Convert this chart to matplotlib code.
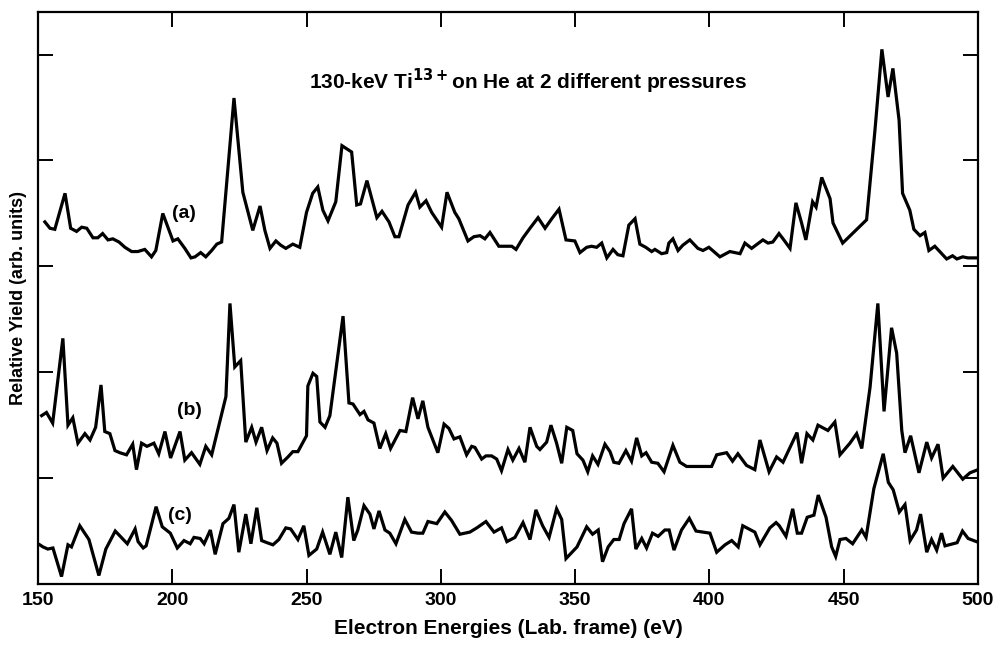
import matplotlib
matplotlib.use("Agg")
import matplotlib.pyplot as plt

# spectra (energy in eV, yield in arb. units)
energy_a = [152.6, 154.5, 156.3, 160.1, 162.2, 164.4, 166.3, 168.2, 170.5, 172.3,
            174.1, 176.1, 177.9, 180.2, 182.4, 184.9, 187.2, 189.8, 192.3, 193.9,
            196.5, 198.4, 200.3, 202.1, 204.7, 207.0, 208.5, 210.6, 212.5, 214.7,
            216.6, 218.4, 223.0, 226.3, 230.0, 232.7, 234.5, 236.4, 238.6, 240.4,
            242.3, 244.9, 247.5, 250.0, 252.3, 254.2, 256.1, 258.0, 260.9, 263.2,
            266.8, 268.7, 270.1, 272.5, 274.2, 276.2, 278.1, 280.7, 282.9, 284.4,
            287.8, 290.6, 292.2, 294.5, 296.6, 300.3, 302.3, 305.2, 306.7, 310.1,
            312.3, 314.6, 316.4, 318.3, 321.6, 326.4, 328.0, 330.6, 333.2, 336.2,
            338.8, 341.3, 344.0, 346.6, 349.9, 351.8, 354.3, 356.1, 358.0, 359.9,
            361.8, 364.1, 365.9, 367.8, 370.0, 372.3, 374.1, 376.3, 378.5, 379.7,
            382.2, 384.1, 384.9, 386.4, 388.3, 390.1, 392.7, 395.7, 397.6, 399.8,
            403.9, 407.6, 411.4, 413.2, 415.7, 419.9, 421.8, 423.6, 425.9, 427.4,
            430.0, 432.2, 434.3, 435.9, 438.4, 439.7, 441.8, 444.9, 446.0, 449.6,
            458.5, 461.6, 464.2, 466.5, 468.3, 470.6, 471.9, 474.6, 476.1, 478.4,
            480.2, 481.7, 483.9, 486.1, 488.3, 490.5, 492.1, 494.3, 496.2, 500.0]
yield_a = [3.42, 3.36, 3.35, 3.69, 3.36, 3.33, 3.37, 3.36, 3.27, 3.27,
           3.31, 3.25, 3.26, 3.23, 3.18, 3.14, 3.14, 3.16, 3.09, 3.15,
           3.50, 3.37, 3.24, 3.26, 3.17, 3.08, 3.09, 3.13, 3.09, 3.15,
           3.21, 3.23, 4.59, 3.70, 3.34, 3.57, 3.34, 3.17, 3.24, 3.20,
           3.17, 3.21, 3.18, 3.51, 3.69, 3.75, 3.53, 3.43, 3.61, 4.14,
           4.08, 3.58, 3.59, 3.81, 3.65, 3.46, 3.52, 3.42, 3.28, 3.28,
           3.58, 3.70, 3.56, 3.62, 3.51, 3.37, 3.70, 3.51, 3.45, 3.24,
           3.28, 3.29, 3.26, 3.32, 3.19, 3.19, 3.16, 3.27, 3.36, 3.46,
           3.36, 3.45, 3.54, 3.25, 3.24, 3.13, 3.18, 3.19, 3.18, 3.22,
           3.08, 3.16, 3.11, 3.10, 3.39, 3.45, 3.21, 3.18, 3.14, 3.16,
           3.12, 3.13, 3.22, 3.26, 3.15, 3.20, 3.25, 3.17, 3.15, 3.18,
           3.09, 3.14, 3.12, 3.22, 3.17, 3.25, 3.22, 3.23, 3.31, 3.26,
           3.17, 3.60, 3.41, 3.25, 3.61, 3.56, 3.84, 3.64, 3.41, 3.22,
           3.44, 4.28, 5.05, 4.60, 4.87, 4.38, 3.69, 3.53, 3.35, 3.29,
           3.32, 3.15, 3.19, 3.13, 3.07, 3.10, 3.07, 3.09, 3.08, 3.08]

energy_b = [151.4, 153.2, 155.5, 159.3, 161.2, 163.0, 164.9, 167.5, 169.4, 171.5,
            173.5, 174.9, 176.8, 178.7, 180.5, 183.0, 185.3, 186.7, 188.6, 190.6,
            193.2, 195.0, 197.3, 199.4, 202.9, 204.7, 207.2, 210.3, 212.5, 214.7,
            220.0, 221.5, 223.3, 225.5, 227.4, 229.6, 231.2, 233.3, 235.3, 237.4,
            239.0, 240.7, 243.1, 244.9, 246.8, 250.0, 250.5, 252.4, 253.8, 255.0,
            256.9, 258.7, 263.6, 265.8, 267.3, 269.9, 271.4, 272.9, 275.1, 277.3,
            279.5, 281.3, 284.8, 287.0, 289.5, 291.5, 293.3, 295.2, 298.9, 301.2,
            303.0, 304.9, 307.1, 309.6, 311.5, 312.7, 315.2, 316.8, 318.9, 320.8,
            322.6, 325.0, 326.8, 329.1, 331.3, 333.2, 335.7, 336.9, 339.4, 341.0,
            343.1, 345.0, 346.9, 349.1, 350.7, 352.9, 354.7, 356.5, 358.5, 361.1,
            363.0, 364.4, 366.3, 368.9, 371.0, 372.9, 374.8, 376.4, 378.5, 380.8,
            383.1, 386.4, 389.0, 391.5, 395.2, 400.8, 402.7, 406.4, 408.6, 410.6,
            413.8, 416.9, 418.8, 422.2, 425.0, 427.4, 432.6, 434.3, 436.3, 438.5,
            440.4, 444.1, 446.7, 448.6, 452.3, 454.8, 456.7, 459.8, 462.7, 465.0,
            467.8, 469.7, 471.6, 472.8, 474.9, 478.0, 480.9, 482.7, 485.1, 487.0,
            490.6, 494.3, 497.0, 500.0]
yield_b = [1.59, 1.62, 1.52, 2.32, 1.50, 1.57, 1.33, 1.42, 1.36, 1.48,
           1.88, 1.44, 1.42, 1.26, 1.24, 1.22, 1.32, 1.08, 1.33, 1.30,
           1.33, 1.23, 1.44, 1.19, 1.44, 1.17, 1.24, 1.13, 1.30, 1.22,
           1.77, 2.65, 2.05, 2.11, 1.34, 1.48, 1.34, 1.48, 1.26, 1.38,
           1.33, 1.14, 1.20, 1.25, 1.25, 1.40, 1.87, 1.99, 1.96, 1.53,
           1.48, 1.59, 2.53, 1.71, 1.70, 1.60, 1.63, 1.55, 1.52, 1.28,
           1.42, 1.28, 1.45, 1.44, 1.76, 1.56, 1.73, 1.48, 1.24, 1.51,
           1.47, 1.37, 1.39, 1.22, 1.30, 1.29, 1.18, 1.21, 1.21, 1.18,
           1.07, 1.27, 1.17, 1.28, 1.15, 1.48, 1.30, 1.27, 1.34, 1.50,
           1.33, 1.14, 1.48, 1.45, 1.23, 1.17, 1.06, 1.21, 1.13, 1.32,
           1.25, 1.15, 1.14, 1.26, 1.16, 1.38, 1.21, 1.24, 1.15, 1.14,
           1.06, 1.31, 1.15, 1.11, 1.11, 1.11, 1.22, 1.24, 1.16, 1.23,
           1.12, 1.08, 1.36, 1.06, 1.20, 1.15, 1.43, 1.14, 1.42, 1.36,
           1.50, 1.45, 1.53, 1.22, 1.33, 1.42, 1.28, 1.86, 2.65, 1.63,
           2.42, 2.18, 1.45, 1.24, 1.40, 1.05, 1.34, 1.19, 1.32, 1.00,
           1.11, 0.99, 1.05, 1.08]

energy_c = [150.7, 151.9, 153.7, 155.6, 158.8, 161.2, 162.5, 165.6, 169.0, 172.7,
            175.3, 178.8, 183.3, 186.2, 187.3, 189.2, 190.3, 194.0, 196.3, 199.3,
            201.9, 204.4, 206.7, 208.1, 210.4, 211.9, 214.2, 216.0, 218.9, 221.1,
            223.0, 224.8, 227.4, 229.3, 231.5, 233.3, 235.3, 237.5, 239.7, 242.3,
            244.1, 246.8, 249.0, 250.9, 253.8, 256.0, 258.7, 260.9, 263.1, 265.4,
            267.6, 269.1, 271.4, 273.6, 275.1, 277.0, 279.2, 281.0, 283.3, 286.6,
            289.1, 291.5, 293.3, 295.2, 298.5, 301.5, 304.0, 307.1, 310.8, 313.4,
            316.8, 319.8, 322.6, 324.6, 327.6, 330.6, 333.2, 335.4, 337.9, 340.3,
            343.1, 345.0, 346.6, 350.7, 354.3, 356.5, 358.6, 360.2, 362.3, 364.4,
            366.4, 368.2, 371.0, 372.6, 374.8, 376.6, 378.8, 380.9, 383.4, 385.0,
            386.8, 389.6, 392.5, 395.0, 400.2, 402.7, 405.8, 408.3, 410.7, 412.4,
            416.9, 418.8, 422.5, 424.8, 426.0, 428.5, 431.0, 432.7, 434.3, 436.4,
            438.9, 440.5, 443.4, 445.5, 447.0, 448.6, 450.8, 453.3, 456.7, 458.3,
            461.2, 464.7, 466.6, 468.4, 470.7, 472.8, 474.7, 477.1, 478.6, 480.9,
            482.7, 484.6, 486.4, 487.7, 492.2, 494.2, 496.3, 499.4]
yield_c = [0.37, 0.35, 0.33, 0.34, 0.07, 0.37, 0.35, 0.55, 0.42, 0.08,
           0.33, 0.50, 0.38, 0.52, 0.40, 0.34, 0.36, 0.73, 0.54, 0.48,
           0.34, 0.41, 0.38, 0.44, 0.43, 0.38, 0.51, 0.28, 0.57, 0.62,
           0.75, 0.30, 0.66, 0.38, 0.72, 0.41, 0.39, 0.37, 0.42, 0.53,
           0.52, 0.42, 0.55, 0.27, 0.33, 0.49, 0.28, 0.49, 0.25, 0.82,
           0.41, 0.51, 0.74, 0.66, 0.52, 0.69, 0.51, 0.48, 0.38, 0.61,
           0.49, 0.48, 0.48, 0.59, 0.57, 0.68, 0.60, 0.47, 0.49, 0.53,
           0.59, 0.49, 0.53, 0.40, 0.44, 0.58, 0.42, 0.70, 0.55, 0.44,
           0.71, 0.61, 0.24, 0.35, 0.54, 0.47, 0.51, 0.21, 0.35, 0.42,
           0.42, 0.57, 0.71, 0.33, 0.43, 0.34, 0.48, 0.45, 0.51, 0.51,
           0.32, 0.51, 0.62, 0.50, 0.48, 0.30, 0.37, 0.41, 0.35, 0.55,
           0.49, 0.37, 0.53, 0.58, 0.55, 0.45, 0.71, 0.48, 0.48, 0.63,
           0.65, 0.84, 0.63, 0.35, 0.26, 0.42, 0.43, 0.38, 0.51, 0.44,
           0.90, 1.23, 0.96, 0.89, 0.68, 0.75, 0.41, 0.51, 0.66, 0.30,
           0.42, 0.32, 0.48, 0.36, 0.39, 0.50, 0.43, 0.40]

xticks = [150, 200, 250, 300, 350, 400, 450, 500]
yticks = [1, 2, 3, 4, 5]

bold = {"family": ["Liberation Sans", "DejaVu Sans"], "weight": "bold"}

fig = plt.figure(figsize=(9.97, 6.46), dpi=100)
ax = fig.add_axes([0.038, 0.096, 0.943, 0.885])

for e, y in [(energy_a, yield_a), (energy_b, yield_b), (energy_c, yield_c)]:
    ax.plot(e, y, color="black", lw=2.3, solid_joinstyle="miter")

ax.set_xlim(150, 500)
ax.set_ylim(0, 5.4)

ax.set_xticks(xticks)
ax.set_xticklabels([str(t) for t in xticks], fontdict=bold, fontsize=14)
ax.set_yticks(yticks)
ax.set_yticklabels([])
ax.tick_params(direction="in", length=11, width=1.4, top=True, right=True, pad=6)
for s in ax.spines.values():
    s.set_linewidth(1.6)

ax.set_xlabel("Electron Energies (Lab. frame) (eV)", fontdict=bold, fontsize=15, labelpad=7)
ax.set_ylabel("Relative Yield (arb. units)", fontdict=bold, fontsize=13)
ax.yaxis.set_label_coords(-0.012, 0.5)

ax.text(251, 4.75, r"130-keV Ti$^{\mathbf{13+}}$on He at 2 different pressures",
        fontdict=bold, fontsize=15, va="center")
ax.text(204.5, 3.5, "(a)", fontdict=bold, fontsize=14, ha="center", va="center")
ax.text(206.5, 1.64, "(b)", fontdict=bold, fontsize=14, ha="center", va="center")
ax.text(203, 0.65, "(c)", fontdict=bold, fontsize=14, ha="center", va="center")

fig.savefig("out.png", dpi=100)
